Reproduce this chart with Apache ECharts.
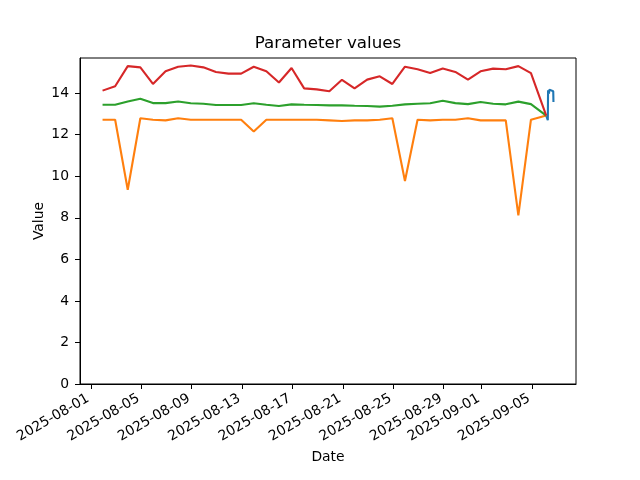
<!DOCTYPE html>
<html>
<head>
<meta charset="utf-8">
<script src="https://cdn.jsdelivr.net/npm/echarts@6/dist/echarts.min.js"></script>
<style>html,body{margin:0;padding:0;background:#fff}#c{width:640px;height:480px}</style>
</head>
<body>
<div id="c"></div>
<script>
// ---- data ----
var dailyTimes = [
 '2025-08-01 22:24','2025-08-02 22:24','2025-08-03 22:24','2025-08-04 22:24','2025-08-05 22:24',
 '2025-08-06 22:24','2025-08-07 22:24','2025-08-08 22:24','2025-08-09 22:24','2025-08-10 22:24',
 '2025-08-11 22:24','2025-08-12 22:24','2025-08-13 22:24','2025-08-14 22:24','2025-08-15 22:24',
 '2025-08-16 22:24','2025-08-17 22:24','2025-08-18 22:24','2025-08-19 22:24','2025-08-20 22:24',
 '2025-08-21 22:24','2025-08-22 22:24','2025-08-23 22:24','2025-08-24 22:24','2025-08-25 22:24',
 '2025-08-26 22:24','2025-08-27 22:24','2025-08-28 22:24','2025-08-29 22:24','2025-08-30 22:24',
 '2025-08-31 22:24','2025-09-01 22:24','2025-09-02 22:24','2025-09-03 22:24','2025-09-04 22:24',
 '2025-09-06 03:30'
];
var redValues = [14.12,14.33,15.30,15.24,14.44,15.05,15.27,15.33,15.24,15.02,
 14.94,14.94,15.27,15.05,14.51,15.21,14.23,14.18,14.09,14.64,
 14.23,14.65,14.81,14.44,15.27,15.15,14.97,15.19,15.02,14.65,
 15.05,15.18,15.15,15.30,14.96,12.92];
var greenValues = [13.44,13.44,13.60,13.73,13.52,13.52,13.60,13.51,13.49,13.43,
 13.43,13.43,13.51,13.44,13.38,13.46,13.44,13.43,13.41,13.41,
 13.39,13.38,13.35,13.39,13.46,13.49,13.51,13.63,13.52,13.47,
 13.57,13.49,13.46,13.59,13.47,12.92];
var orangeValues = [12.72,12.72,9.35,12.79,12.72,12.69,12.79,12.72,12.72,12.72,
 12.72,12.72,12.15,12.72,12.72,12.72,12.72,12.72,12.69,12.66,
 12.69,12.69,12.72,12.79,9.77,12.72,12.69,12.72,12.72,12.79,
 12.69,12.69,12.69,8.12,12.72,12.92];
var blueTimes = ['2025-09-06 03:30','2025-09-06 06:30','2025-09-06 07:00','2025-09-06 08:40',
 '2025-09-06 09:30','2025-09-06 12:00','2025-09-06 16:50','2025-09-06 17:15'];
var blueValues = [12.92,12.70,14.14,13.97,14.17,14.10,14.09,13.57];
var xTickLabels = ['2025-08-01','2025-08-05','2025-08-09','2025-08-13','2025-08-17','2025-08-21',
 '2025-08-25','2025-08-29','2025-09-01','2025-09-05'];
var yTicks = [0,2,4,6,8,10,12,14];

function parseT(s){
  var p = s.split(/[- :]/).map(Number);
  return new Date(p[0], p[1]-1, p[2], p[3]||0, p[4]||0).getTime();
}
function pairs(ts, vs){ return vs.map(function(v,i){return [ts[i], v];}); }
var dailyTs = dailyTimes.map(parseT);
var blueTs = blueTimes.map(parseT);

var allT = dailyTs.concat(blueTs);
var tmin = Math.min.apply(null, allT), tmax = Math.max.apply(null, allT);
var R = tmax - tmin;
var xmin = tmin - 0.05*R, xmax = tmax + 0.05*R;
var tickTs = xTickLabels.map(function(s){return parseT(s+' 00:00');});
var tickLabelMap = {};
tickTs.forEach(function(t,i){ tickLabelMap[t] = xTickLabels[i]; });

var allV = redValues.concat(greenValues, orangeValues, blueValues);
var vmax = Math.max.apply(null, allV), vmin = Math.min.apply(null, allV);
var ymax = vmax + 0.05*(vmax - vmin);

var font = 'DejaVu Sans';
var chart = echarts.init(document.getElementById('c'), null, {renderer:'canvas'});
chart.setOption({
  animation: false,
  backgroundColor: '#fff',
  title: {
    text: 'Parameter values', left: 323, top: 30, textAlign: 'center',
    textStyle: {fontFamily: font, fontSize: 16.7, fontWeight: 'normal', color: '#000'}
  },
  grid: {left: 80, right: 64, top: 58, bottom: 96, show: true, borderColor: '#000', borderWidth: 1, backgroundColor: 'transparent'},
  xAxis: {
    type: 'value', min: xmin, max: xmax, scale: true,
    name: 'Date', nameLocation: 'middle', nameGap: 66,
    nameTextStyle: {fontFamily: font, fontSize: 13.9, color: '#000'},
    axisLine: {show: true, onZero: false, lineStyle: {color: '#000', width: 1}},
    axisTick: {show: true, length: 5, lineStyle: {color: '#000', width: 1}, customValues: tickTs},
    splitLine: {show: false},
    axisLabel: {
      customValues: tickTs, rotate: 30, margin: 12, padding: [0, 3, 0, 0],
      fontFamily: font, fontSize: 13.9, color: '#000',
      formatter: function(v){ return tickLabelMap[v] || ''; }
    }
  },
  yAxis: {
    type: 'value', min: 0, max: ymax, interval: 2,
    name: 'Value', nameLocation: 'middle', nameGap: 41, nameRotate: 90, nameMoveOverlap: false,
    nameTextStyle: {fontFamily: font, fontSize: 13.9, color: '#000', verticalAlign: 'middle'},
    axisLine: {show: true, lineStyle: {color: '#000', width: 1}},
    axisTick: {show: true, length: 5, lineStyle: {color: '#000', width: 1}, customValues: yTicks},
    splitLine: {show: false},
    axisLabel: {customValues: yTicks, margin: 11, fontFamily: font, fontSize: 13.9, color: '#000'}
  },
  series: [
    {type: 'line', data: pairs(blueTs, blueValues), showSymbol: false, lineStyle: {width: 2.1, color: '#1f77b4'}, itemStyle:{color:'#1f77b4'}},
    {type: 'line', data: pairs(dailyTs, orangeValues), showSymbol: false, lineStyle: {width: 2.1, color: '#ff7f0e'}, itemStyle:{color:'#ff7f0e'}},
    {type: 'line', data: pairs(dailyTs, greenValues), showSymbol: false, lineStyle: {width: 2.1, color: '#2ca02c'}, itemStyle:{color:'#2ca02c'}},
    {type: 'line', data: pairs(dailyTs, redValues), showSymbol: false, lineStyle: {width: 2.1, color: '#d62728'}, itemStyle:{color:'#d62728'}}
  ]
});
</script>
</body>
</html>
